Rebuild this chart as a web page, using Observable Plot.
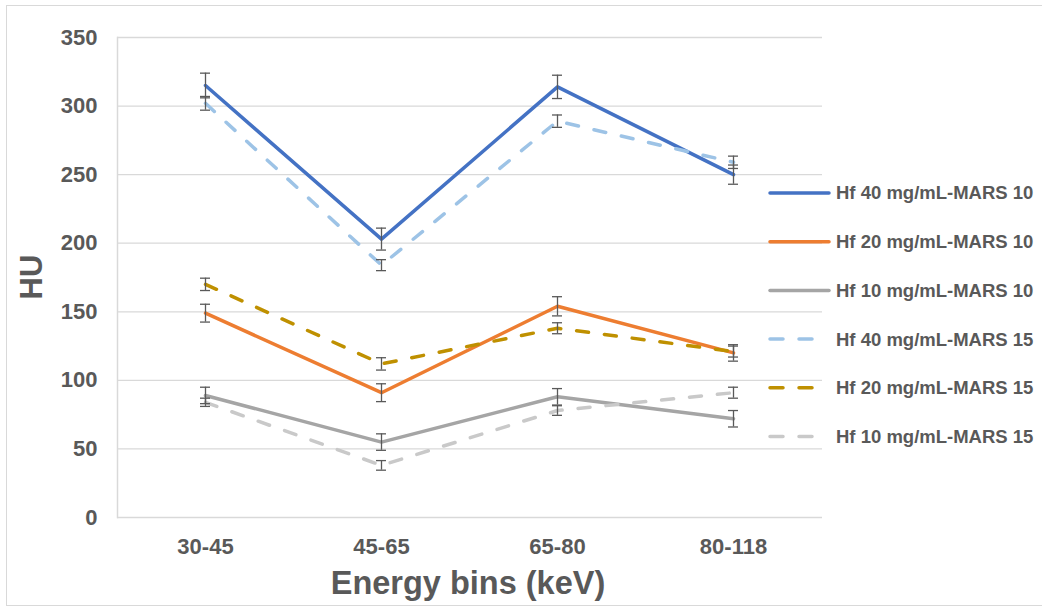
<!DOCTYPE html>
<html>
<head>
<meta charset="utf-8">
<script src="https://cdn.jsdelivr.net/npm/d3@7"></script>
<script src="https://cdn.jsdelivr.net/npm/@observablehq/plot@0.6"></script>
<style>
  html, body { margin: 0; padding: 0; background: #fff; }
  #chart { position: relative; width: 1042px; height: 609px; overflow: hidden; }
  #chart svg { display: block; }
  .border { position: absolute; left: 6px; top: 5px; width: 1100px; height: 601px;
            border: 1.5px solid #D9D9D9; box-sizing: border-box; pointer-events: none; }
</style>
</head>
<body>
<div id="chart"><div class="border"></div></div>
<script>
// Energy bins on the x axis
const bins = ["30-45", "45-65", "65-80", "80-118"];
const yTicks = [0, 50, 100, 150, 200, 250, 300, 350];

// Series names, in legend order
const seriesNames = [
  "Hf 40 mg/mL-MARS 10",
  "Hf 20 mg/mL-MARS 10",
  "Hf 10 mg/mL-MARS 10",
  "Hf 40 mg/mL-MARS 15",
  "Hf 20 mg/mL-MARS 15",
  "Hf 10 mg/mL-MARS 15"
];

// Mean HU per energy bin
const hf40mars10 = [315, 203, 314, 250];
const hf20mars10 = [149, 91, 154, 120];
const hf10mars10 = [89, 55, 88, 72];
const hf40mars15 = [302, 184, 289, 259];
const hf20mars15 = [170, 112, 138, 121];
const hf10mars15 = [84, 38, 78, 91];

// Error (± HU) per energy bin
const hf40mars10Err = [9, 8, 8.5, 7];
const hf20mars10Err = [6.5, 6.5, 7, 6];
const hf10mars10Err = [6, 6, 6, 6];
const hf40mars15Err = [5, 4, 4.5, 4.5];
const hf20mars15Err = [4.5, 4.5, 4, 4];
const hf10mars15Err = [3, 3.5, 3.5, 4];

const seriesValues = [hf40mars10, hf20mars10, hf10mars10, hf40mars15, hf20mars15, hf10mars15];
const seriesErrors = [hf40mars10Err, hf20mars10Err, hf10mars10Err, hf40mars15Err, hf20mars15Err, hf10mars15Err];

// Styling per series
const colors = ["#4472C4", "#ED7D31", "#A5A5A5", "#9DC3E6", "#BF9000", "#C9C9C9"];
const dashed = [false, false, false, true, true, true];

const textColor = "#595959";
const gridColor = "#D9D9D9";
const fontFamily = "'Liberation Sans', Arial, Helvetica, sans-serif";

// Long-format table built from the arrays above
const rows = seriesNames.flatMap((name, s) =>
  bins.map((bin, i) => ({
    series: name,
    bin,
    value: seriesValues[s][i],
    lo: seriesValues[s][i] - seriesErrors[s][i],
    hi: seriesValues[s][i] + seriesErrors[s][i]
  }))
);

const marks = [
  Plot.gridY(yTicks.filter(d => d > 0), { stroke: gridColor, strokeOpacity: 1, strokeWidth: 1.3 }),
  Plot.ruleY([0], { stroke: gridColor, strokeWidth: 1.5 }),
  Plot.frame({ anchor: "left", stroke: gridColor, strokeWidth: 1.5 })
];

seriesNames.forEach((name, s) => {
  const data = rows.filter(d => d.series === name);
  marks.push(
    Plot.line(data, {
      x: "bin", y: "value",
      stroke: colors[s], strokeWidth: 3.5,
      strokeLinecap: "round", strokeLinejoin: "round",
      strokeDasharray: dashed[s] ? "12,16" : null
    })
  );
});

seriesNames.forEach((name, s) => {
  const data = rows.filter(d => d.series === name);
  marks.push(
    Plot.ruleX(data, { x: "bin", y1: "lo", y2: "hi", stroke: textColor, strokeWidth: 1.3 }),
    Plot.tickY(data, { x: "bin", y: "lo", stroke: textColor, strokeWidth: 1.3 }),
    Plot.tickY(data, { x: "bin", y: "hi", stroke: textColor, strokeWidth: 1.3 })
  );
});

marks.push(
  Plot.axisY({ ticks: yTicks, tickSize: 0, tickPadding: 20, label: null,
               fontSize: 22, fontWeight: "bold", fill: textColor }),
  Plot.axisX({ tickSize: 0, tickPadding: 21, label: null,
               fontSize: 22, fontWeight: "bold", fill: textColor })
);

const chart = Plot.plot({
  width: 1042,
  height: 609,
  marginLeft: 117,
  marginRight: 220,
  marginTop: 37,
  marginBottom: 92,
  style: { fontFamily, background: "transparent", overflow: "visible" },
  x: { type: "band", domain: bins, paddingInner: 0.943, paddingOuter: 0.4717 },
  y: { domain: [0, 350] },
  marks
});

document.getElementById("chart").appendChild(chart);

// Axis titles and legend, drawn into the same SVG
const svg = d3.select(chart);

svg.append("text")
  .attr("transform", "translate(42,277) rotate(-90)")
  .attr("text-anchor", "middle")
  .attr("font-family", fontFamily)
  .attr("font-weight", "bold")
  .attr("font-size", 31)
  .attr("fill", textColor)
  .text("HU");

svg.append("text")
  .attr("x", 468)
  .attr("y", 594)
  .attr("text-anchor", "middle")
  .attr("font-family", fontFamily)
  .attr("font-weight", "bold")
  .attr("font-size", 32.5)
  .attr("fill", textColor)
  .text("Energy bins (keV)");

const legend = svg.append("g").attr("transform", "translate(768,193)");
seriesNames.forEach((name, s) => {
  const g = legend.append("g").attr("transform", `translate(0,${s * 48.7})`);
  g.append("line")
    .attr("x1", 2).attr("x2", 61).attr("y1", 0).attr("y2", 0)
    .attr("stroke", colors[s]).attr("stroke-width", 3.5)
    .attr("stroke-linecap", "round")
    .attr("stroke-dasharray", dashed[s] ? "13,16,13,100" : null);
  g.append("text")
    .attr("x", 68).attr("y", 0).attr("dy", "0.35em")
    .attr("text-anchor", "start")
    .attr("font-family", fontFamily)
    .attr("font-weight", "bold")
    .attr("font-size", 18.5)
    .attr("fill", textColor)
    .text(name);
});
</script>
</body>
</html>
